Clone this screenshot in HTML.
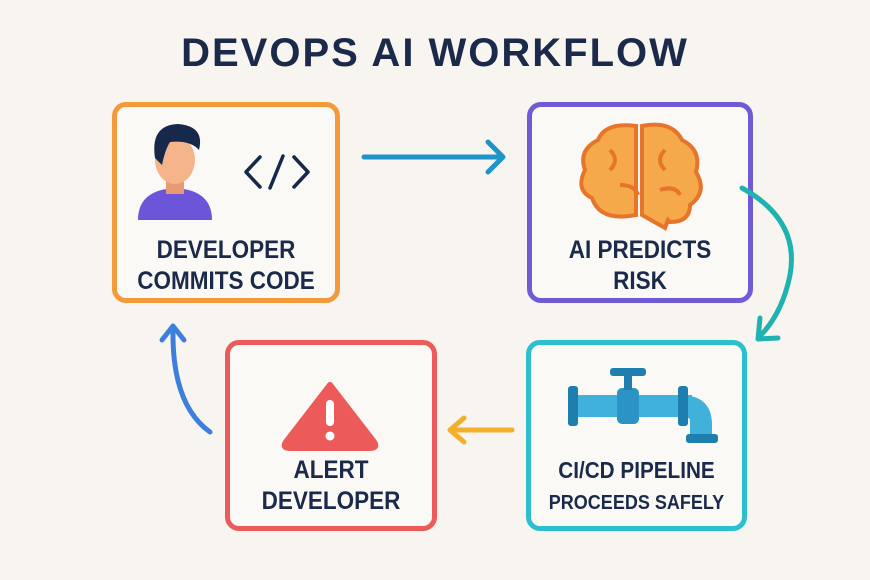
<!DOCTYPE html>
<html><head><meta charset="utf-8"><style>
body{margin:0;width:870px;height:580px;background:#f8f5f0;overflow:hidden;font-family:"Liberation Sans",sans-serif}
.t{position:absolute;left:0;width:870px;text-align:center;top:31px;font-size:40px;font-weight:bold;color:#1b2a4a;letter-spacing:2px}
.b{position:absolute;border:5px solid;border-radius:14px;box-sizing:border-box;background:#fbf9f6}
.l{position:absolute;left:0;right:0;text-align:center;font-weight:bold;color:#1b2a4a;font-size:25px;line-height:31px;transform:scaleX(0.9)}
</style></head><body>
<div class="t">DEVOPS AI WORKFLOW</div>
<div class="b" style="left:112px;top:102px;width:228px;height:201px;border-color:#f39a3a"><div class="l" style="top:128px">DEVELOPER<br>COMMITS CODE</div></div>
<div class="b" style="left:527px;top:102px;width:226px;height:201px;border-color:#6f5bd6"><div class="l" style="top:128px">AI PREDICTS<br>RISK</div></div>
<div class="b" style="left:225px;top:340px;width:212px;height:191px;border-color:#ec5a5a"><div class="l" style="top:110px">ALERT<br>DEVELOPER</div></div>
<div class="b" style="left:526px;top:340px;width:221px;height:191px;border-color:#2cc0cf"><div class="l" style="top:110px;font-size:23px">CI/CD PIPELINE<br><span style="font-size:20px">PROCEEDS SAFELY</span></div></div>
<svg width="870" height="580" style="position:absolute;left:0;top:0">
<path d="M138 220 Q138 190 175 188 Q212 190 212 220 Z" fill="#6c55d9"/>
<rect x="166" y="172" width="18" height="22" fill="#e89a74"/>
<ellipse cx="175" cy="160" rx="20" ry="24" fill="#f6b48b"/>
<path d="M155 158 Q150 125 178 124 Q205 126 199 150 Q190 140 170 142 Q165 150 162 165 Z" fill="#17294a"/>
<g fill="none" stroke="#17294a" stroke-width="3.5" stroke-linecap="round" stroke-linejoin="round">
<path d="M260 157 L246 172 L260 187 M270 188 L283 156 M294 157 L308 172 L294 187"/>
</g>
<g fill="#f6a94a" stroke="#e6742a" stroke-width="4">
<path d="M636 215 Q600 222 592 198 Q575 190 585 170 Q578 150 598 140 Q605 122 636 126 Z"/>
<path d="M642 126 Q672 120 682 140 Q702 150 696 172 Q708 192 690 205 Q690 222 670 222 L668 220 Q665 228 665 228 L642 215 Z"/>
<path d="M610 150 q10 10 0 20 M620 185 q15 0 18 10 M665 150 q-10 10 0 20 M660 190 q15 -5 20 5" fill="none"/>
</g>
<path d="M330 385 L374 442 Q378 448 370 448 L290 448 Q282 448 286 442 Z" fill="#ec5a5a" stroke="#ec5a5a" stroke-width="6" stroke-linejoin="round"/>
<rect x="326" y="400" width="8" height="26" rx="4" fill="#fff"/>
<circle cx="330" cy="436" r="4.5" fill="#fff"/>
<rect x="572" y="395" width="120" height="22" fill="#3fb1da"/>
<path d="M680 395 Q712 395 712 425 L712 440 L690 440 L690 420 Q690 417 680 417 Z" fill="#3fb1da"/>
<rect x="568" y="386" width="10" height="40" rx="3" fill="#1e7fae"/>
<rect x="678" y="386" width="10" height="40" rx="3" fill="#1e7fae"/>
<rect x="686" y="434" width="32" height="9" rx="3" fill="#1e7fae"/>
<rect x="617" y="388" width="22" height="36" rx="5" fill="#2b94c5"/>
<rect x="624" y="376" width="8" height="14" fill="#1e7fae"/>
<rect x="610" y="368" width="36" height="8" rx="3" fill="#1e7fae"/>
<g fill="none" stroke-linecap="round" stroke-linejoin="round" stroke-width="5">
<path d="M364 157 L502 157 M488 142 L503 157 L488 172" stroke="#1f94c8"/>
<path d="M742 188 Q800 220 790 275 Q782 315 758 338 M760 318 L758 339 L778 338" stroke="#1fb2b0"/>
<path d="M512 430 L450 430 M464 418 L450 430 L464 442" stroke="#f2b02a"/>
<path d="M210 432 Q172 405 173 330 M162 340 L173 326 L184 340" stroke="#3d7fdc"/>
</g>
</svg>
</body></html>
